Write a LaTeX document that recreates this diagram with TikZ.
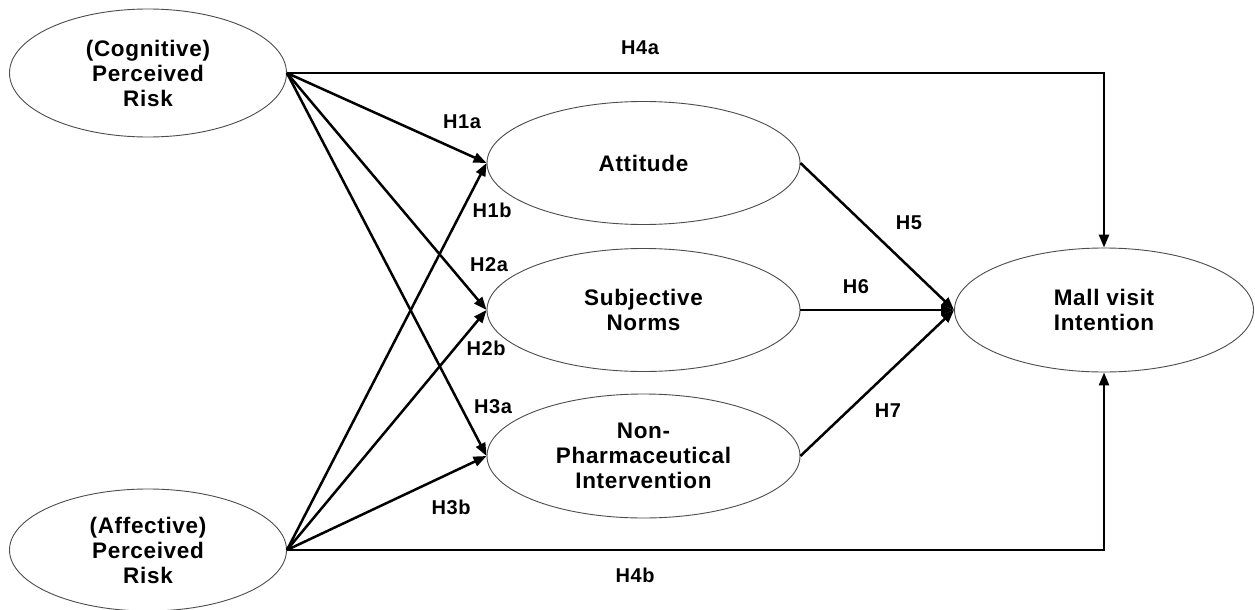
\documentclass[tikz,border=0pt]{standalone}
\usepackage{fontspec}
\setmainfont{Liberation Sans}[LetterSpace=3]
\usetikzlibrary{shapes.geometric,arrows.meta}
\begin{document}
\begin{tikzpicture}[x=1pt,y=-1pt,
  lat/.style={ellipse, draw=black!70, line width=0.9pt, inner sep=0pt, align=center,
    font=\fontsize{22.5}{25}\selectfont\bfseries},
  conn/.style={line width=2.5pt, -{Triangle[length=13pt,width=10pt]}},
  hlab/.style={font=\fontsize{20}{22}\selectfont\bfseries}]
\useasboundingbox[fill=white] (0,0) rectangle (1255,610);
% latent variables
\node[lat, minimum width=277, minimum height=128] (cog) at (148,73) {(Cognitive)\\Perceived\\Risk};
\node[lat, minimum width=277, minimum height=122] (aff) at (148,550) {(Affective)\\Perceived\\Risk};
\node[lat, minimum width=313, minimum height=123] (att) at (643.5,163) {Attitude};
\node[lat, minimum width=313, minimum height=123] (sn) at (643.5,310) {Subjective\\Norms};
\node[lat, minimum width=313, minimum height=124] (npi) at (643.5,456) {Non-\\Pharmaceutical\\Intervention};
\node[lat, minimum width=299, minimum height=124] (mall) at (1104,310) {Mall visit\\Intention};
% connectors
\draw[conn] (cog.east) -- (att.west);
\draw[conn] (cog.east) -- (sn.west);
\draw[conn] (cog.east) -- (npi.west);
\draw[conn] (aff.east) -- (att.west);
\draw[conn] (aff.east) -- (sn.west);
\draw[conn] (aff.east) -- (npi.west);
\draw[conn] (att.east) -- (mall.west);
\draw[conn] (sn.east) -- (mall.west);
\draw[conn] (npi.east) -- (mall.west);
\draw[conn] (cog.east) -| (mall.north);
\draw[conn] (aff.east) -| (mall.south);
% labels
\node[hlab] (l4a) at (640,48) {H4a};
\node[hlab] (l1a) at (462,122) {H1a};
\node[hlab] (l1b) at (492,210) {H1b};
\node[hlab] (l2a) at (489,265) {H2a};
\node[hlab] (l2b) at (486,348) {H2b};
\node[hlab] (l3a) at (493,407) {H3a};
\node[hlab] (l3b) at (451,507) {H3b};
\node[hlab] (l4b) at (635,575) {H4b};
\node[hlab] (l5) at (909,223) {H5};
\node[hlab] (l6) at (856,287) {H6};
\node[hlab] (l7) at (888,411) {H7};
\end{tikzpicture}
\end{document}
